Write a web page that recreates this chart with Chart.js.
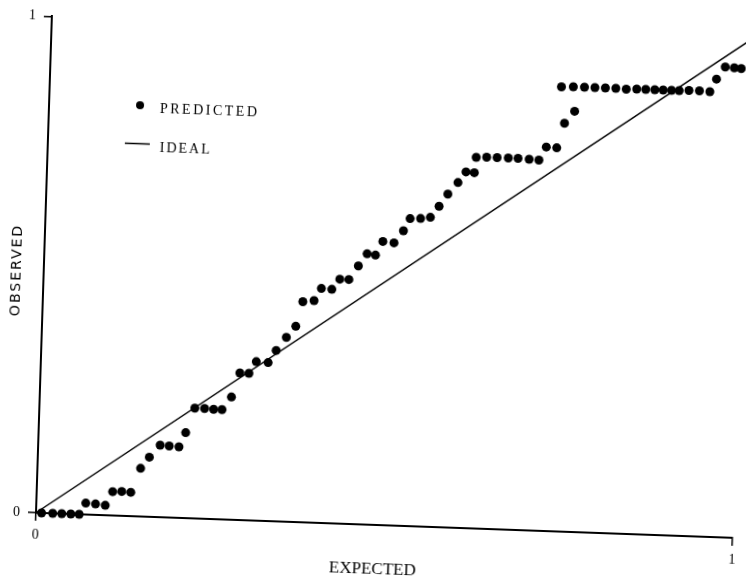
<!DOCTYPE html>
<html>
<head>
<meta charset="utf-8">
<script src="https://cdn.jsdelivr.net/npm/chart.js@4.4.0/dist/chart.umd.min.js"></script>
<style>
    html, body { margin: 0; padding: 0; background: #fff; overflow: hidden; }
    #wrap { width: 746px; height: 581px; }
    /* the scanned figure has slightly skewed axes */
    #myChart { display: block; transform: matrix(1, 0.036, -0.032, 1, 0, 0); transform-origin: 36px 513px; }
</style>
</head>
<body>
<div id="wrap"><canvas id="myChart" width="746" height="581"></canvas></div>
<script>
const expected = [0.008, 0.024, 0.037, 0.050, 0.062, 0.071, 0.085, 0.099, 0.109, 0.122,
    0.135, 0.148, 0.160, 0.175, 0.188, 0.202, 0.211, 0.223, 0.237, 0.250,
    0.262, 0.275, 0.286, 0.299, 0.309, 0.326, 0.337, 0.351, 0.364, 0.373,
    0.389, 0.399, 0.414, 0.425, 0.438, 0.451, 0.463, 0.475, 0.485, 0.501,
    0.514, 0.523, 0.538, 0.552, 0.564, 0.576, 0.590, 0.601, 0.613, 0.615,
    0.630, 0.645, 0.661, 0.675, 0.691, 0.705, 0.715, 0.730, 0.740, 0.754,
    0.734, 0.751, 0.767, 0.782, 0.797, 0.812, 0.827, 0.842, 0.855, 0.868,
    0.880, 0.892, 0.903, 0.917, 0.932, 0.947, 0.956, 0.968, 0.981, 0.991];
const observed = [0, 0, 0, 0, 0, 0.023, 0.022, 0.020, 0.048, 0.049,
    0.048, 0.097, 0.120, 0.145, 0.144, 0.143, 0.172, 0.222, 0.222, 0.221,
    0.221, 0.247, 0.296, 0.296, 0.320, 0.319, 0.344, 0.371, 0.394, 0.444,
    0.447, 0.472, 0.471, 0.492, 0.492, 0.520, 0.545, 0.543, 0.571, 0.569,
    0.594, 0.619, 0.620, 0.623, 0.646, 0.671, 0.695, 0.717, 0.716, 0.747,
    0.748, 0.748, 0.748, 0.748, 0.747, 0.746, 0.773, 0.772, 0.822, 0.847,
    0.895, 0.896, 0.896, 0.896, 0.896, 0.896, 0.895, 0.896, 0.896, 0.896,
    0.896, 0.896, 0.896, 0.897, 0.897, 0.896, 0.922, 0.947, 0.946, 0.945];
const idealX = [0, 1];
const idealY = [0, 1];
const tickValues = [0, 1];
const seriesNames = ['PREDICTED', 'IDEAL'];
const xTitle = 'EXPECTED';
const yTitle = 'OBSERVED';

const predictedPts = expected.map((x, i) => ({ x: x, y: observed[i] }));
const idealPts = idealX.map((x, i) => ({ x: x, y: idealY[i] }));

// legend and axis titles, typed the old typewriter way
const paperText = {
    id: 'paperText',
    afterDraw(chart) {
        const ctx = chart.ctx;
        const ds = chart.data.datasets;
        ctx.save();
        ctx.fillStyle = '#000';
        ctx.strokeStyle = '#000';
        ctx.beginPath();
        ctx.arc(127, 102, 4, 0, Math.PI * 2);
        ctx.fill();
        ctx.lineWidth = 1.5;
        ctx.beginPath();
        ctx.moveTo(113, 140.5);
        ctx.lineTo(138, 140.5);
        ctx.stroke();

        ctx.textBaseline = 'middle';
        ctx.font = '14px "Liberation Serif"';
        ctx.letterSpacing = '2.5px';
        ctx.fillText(ds[0].label, 147, 105);
        ctx.letterSpacing = '2px';
        ctx.fillText(ds[1].label, 148, 144.5);

        ctx.textAlign = 'center';
        ctx.font = '17px "Liberation Serif"';
        ctx.letterSpacing = '0px';
        ctx.fillText(xTitle, 374, 558);

        ctx.translate(9.5, 271);
        ctx.rotate(-Math.PI / 2);
        ctx.font = '14px "DejaVu Sans"';
        ctx.letterSpacing = '2px';
        ctx.fillText(yTitle, 0, 0);
        ctx.restore();
    }
};

const axisStyle = {
    type: 'linear',
    min: 0,
    max: 1,
    border: { display: true, color: '#000', width: 2 },
    grid: { display: true, drawOnChartArea: false, drawTicks: true, tickLength: 8, color: '#000', lineWidth: 1.5 },
    afterBuildTicks: (scale) => { scale.ticks = tickValues.map(v => ({ value: v })); }
};

const ctx1 = document.getElementById('myChart').getContext('2d');
let chart = new Chart(ctx1, {
    type: 'scatter',
    data: {
        datasets: [
            {
                label: seriesNames[0],
                data: predictedPts,
                backgroundColor: '#000',
                borderWidth: 0,
                pointRadius: 4.5,
                clip: false
            },
            {
                label: seriesNames[1],
                data: idealPts,
                showLine: true,
                borderColor: '#000',
                borderWidth: 1.5,
                pointRadius: 0,
                clip: false
            }
        ]
    },
    options: {
        responsive: false,
        animation: false,
        layout: { padding: { top: 14, right: 13, left: 0, bottom: 0 } },
        plugins: { legend: { display: false }, tooltip: { enabled: false } },
        scales: {
            x: Object.assign({}, axisStyle, {
                position: 'bottom',
                ticks: { color: '#000', padding: 6, maxRotation: 0, font: { family: 'Liberation Serif', size: 14 } },
                afterFit: (scale) => { scale.height = 68; }
            }),
            y: Object.assign({}, axisStyle, {
                position: 'left',
                ticks: { color: '#000', padding: 8, font: { family: 'Liberation Serif', size: 14 } },
                afterFit: (scale) => { scale.width = 36; }
            })
        }
    },
    plugins: [paperText]
});
</script>
</body>
</html>
